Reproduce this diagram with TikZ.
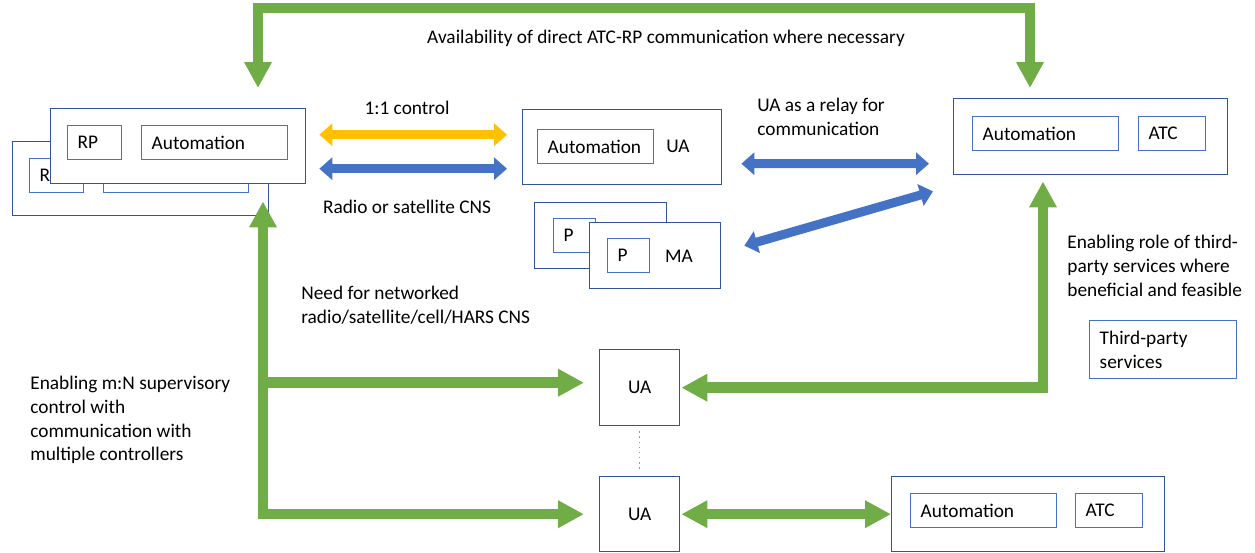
\documentclass[tikz,border=0pt]{standalone}
\usepackage{fontspec}
\setmainfont{Carlito}
\usetikzlibrary{arrows.meta,calc}
\definecolor{agreen}{HTML}{70AD47}
\definecolor{ablue}{HTML}{4472C4}
\definecolor{dblue}{HTML}{2F5597}
\definecolor{ayellow}{HTML}{FFC000}
\definecolor{lblue}{HTML}{8FAADC}

\begin{document}
\begin{tikzpicture}[x=0.02cm, y=-0.02cm,  % координаты в пикселях
    font=\fontsize{11}{13.5}\selectfont,
    outbox/.style={draw=dblue, line width=0.8pt, fill=white, anchor=north west, inner sep=0pt},
    inbox/.style={draw=ablue, line width=0.8pt, fill=white, anchor=north west, align=left,
        inner xsep=0.2cm, inner ysep=0pt, minimum height=0.68cm},
    lbl/.style={anchor=west, align=left, inner sep=0pt},
    greenarrow/.style={draw=agreen, line width=0.21cm, >={Triangle[width=0.52cm,length=0.52cm]}},
    bluearrow/.style={draw=ablue, line width=0.18cm, <->, >={Triangle[width=0.44cm,length=0.26cm]}},
    yellowarrow/.style={bluearrow, draw=ayellow}]
    \useasboundingbox (0,0) rectangle (1255,552);

    % Пульт RP (две копии)
    \node[outbox, minimum width=5.12cm, minimum height=1.48cm] (rpb) at (12,141) {};
    \node[inbox, text width=0.68cm] (rpbrp) at (29,158) {RP};
    \node[inbox, text width=2.5cm] (rpbauto) at (103,158) {};
    \node[outbox, minimum width=5.1cm, minimum height=1.5cm] (rpf) at (50,108) {};
    \node[inbox, text width=0.68cm] (rpfrp) at (67,125) {RP};
    \node[inbox, text width=2.52cm] (rpfauto) at (141,125) {Automation};

    % UA сверху
    \node[outbox, minimum width=3.98cm, minimum height=1.5cm] (ua) at (522,109) {};
    \node[inbox, text width=1.92cm] (uaauto) at (537,129) {Automation};
    \node (ualbl) at (678,146) {UA};

    % ATC сверху
    \node[outbox, minimum width=5.48cm, minimum height=1.52cm] (atc) at (953,98) {};
    \node[inbox, text width=2.52cm] (atcauto) at (972,116) {Automation};
    \node[inbox, text width=0.94cm] (atcatc) at (1138,116) {ATC};

    % MA (две копии)
    \node[outbox, minimum width=2.64cm, minimum height=1.32cm] (mab) at (534,202) {};
    \node[inbox, text width=0.44cm] (mabp) at (553,218) {P};
    \node[outbox, minimum width=2.62cm, minimum height=1.32cm] (maf) at (589,222) {};
    \node[inbox, text width=0.44cm] (mafp) at (607,238) {P};
    \node (malbl) at (679,256) {MA};

    % UA снизу
    \node[outbox, minimum width=1.6cm, minimum height=1.52cm] (ua1) at (599,349) {UA};
    \node[outbox, minimum width=1.6cm, minimum height=1.5cm] (ua2) at (599,476) {UA};

    % ATC снизу
    \node[outbox, minimum width=5.46cm, minimum height=1.5cm] (atc2) at (891,476) {};
    \node[inbox, text width=2.52cm] (atc2auto) at (910,493) {Automation};
    \node[inbox, text width=0.94cm] (atc2atc) at (1075,493) {ATC};

    % Сторонние сервисы
    \node[inbox, text width=2.54cm, minimum height=1.16cm] (tp) at (1089,320) {Third-party\\services};

    % Подписи
    \node (toptxt) at (666,38) {Availability of direct ATC-RP communication where necessary};
    \node (ctrl) at (407,108) {1:1 control};
    \node (radio) at (407,207) {Radio or satellite CNS};
    \node[lbl] (relay) at (757,117) {UA as a relay for\\communication};
    \node[lbl] (netw) at (301,305) {Need for networked\\radio/satellite/cell/HARS CNS};
    \node[lbl] (mn) at (30,420) {Enabling m:N supervisory\\control with\\communication with\\multiple controllers};
    \node[lbl] (third) at (1067,266) {Enabling role of third-\\party services where\\beneficial and feasible};

    % Зелёные стрелки
    \draw[greenarrow,<->] ($(rpf.north west)+(208,-20)$) -- ++(0,-80) -| ($(atc.north west)+(77,-10)$);
    \coordinate (hub) at ($(rpb.south west)+(251,-15)$);
    \draw[greenarrow,<->] (hub) |- ($(ua2.west)+(-15,0)$);
    \draw[greenarrow,->] ($(hub |- ua1.west)+(0,-5)$) -- ($(ua1.west)+(-15,-5)$);
    \draw[greenarrow,<->] ($(ua1.east)+(1,0)$) -| ($(atc.south west)+(90,6)$);
    \draw[greenarrow,<->] ($(ua2.east)+(1,0)$) -- (atc2.west);
    \draw[ablue!70, dotted, line width=0.9pt] ($(ua1.south)+(0,5)$) -- ($(ua2.north)+(0,-6)$);

    % Синие и жёлтая стрелки
    \draw[yellowarrow] ($(rpf.east)+(13,-11.5)$) -- ($(ua.west)+(-15,-12.5)$);
    \draw[bluearrow] ($(rpf.east)+(13,22.5)$) -- ($(ua.west)+(-15,21.5)$);
    \draw[bluearrow] ($(ua.east)+(19,16.5)$) -- ($(atc.west)+(-24,27)$);
    \draw[bluearrow] ($(maf.east)+(23,-10)$) -- ($(atc.south west)+(-20,16)$);
\end{tikzpicture}
\end{document}
